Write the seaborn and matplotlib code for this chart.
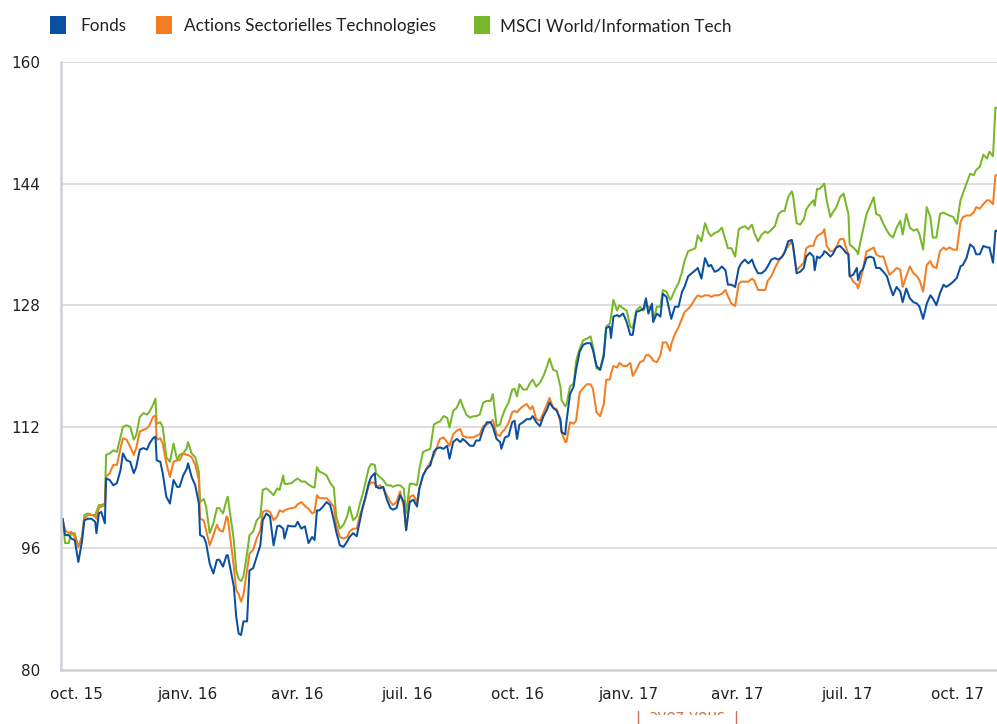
import numpy as np
import pandas as pd
import matplotlib
matplotlib.use("Agg")
import matplotlib.pyplot as plt
import matplotlib.dates as mdates
import matplotlib.transforms as mtransforms
from matplotlib.ticker import FixedLocator, MultipleLocator
from matplotlib.patches import Rectangle
from matplotlib.lines import Line2D
import seaborn as sns

# ---------------- data ----------------
base_date = "2015-10-01"
days = [
    -16, -14, -11, -9, -6, -3, 0, 2, 5, 8,
    11, 12, 14, 16, 19, 20, 23, 26, 29, 32,
    34, 37, 40, 43, 45, 48, 51, 54, 56, 59,
    61, 62, 65, 67, 70, 73, 76, 79, 81, 84,
    87, 88, 91, 94, 97, 98, 101, 103, 106, 109,
    112, 114, 117, 120, 121,
    126, 128, 130, 132, 134, 137, 139, 142, 145, 148,
    150, 153, 156, 159, 162, 164, 167, 168, 171, 174,
    177, 179, 182, 185, 188, 191, 193, 195, 197, 200,
    203, 206, 209, 211, 214, 217, 220, 222, 225, 228,
    231, 233, 235, 238, 240, 243, 244, 247, 250, 253,
    256, 258, 261, 264, 267, 269, 272, 275, 278,
    280, 283, 286, 289, 292, 294, 297, 300, 303, 305,
    308, 311, 314, 316, 319, 322, 325, 327, 330, 333,
    336, 339, 341, 344, 347, 348, 351, 354, 357, 359,
    361, 363, 366, 369, 372, 374, 377, 380, 383, 386,
    388, 391, 394, 397, 398, 401, 402, 405, 408, 410,
    413, 416, 419, 422, 424, 427, 430, 433, 435, 438,
    439, 441, 444, 446, 449, 452, 455, 457, 460,
    463, 466, 468, 470, 473, 474, 477, 480, 482, 485,
    488, 489, 492, 495, 498, 500, 503, 506, 509, 511,
    514, 517, 520, 522, 525, 528, 531, 534, 536, 539,
    542, 545, 547, 550, 553, 556, 558, 561, 564, 567,
    569, 572, 575, 578, 581, 583, 586, 589, 590, 593,
    596, 599, 601, 604, 607, 608, 610,
    612, 615, 616, 618, 621, 623, 626, 629, 632, 634,
    636, 637, 640, 643, 644, 646, 648, 651, 654, 657,
    659, 662, 665, 668, 670, 673, 676, 679, 681, 684,
    687, 690, 693, 695, 698, 701, 704, 706, 709, 712,
    715, 717, 720, 723, 726, 729, 731, 734, 737, 740,
    742, 745, 748, 751, 753, 756, 758, 759,
]

fonds = [
    99.9, 97.75, 97.75, 97.3, 97.1, 94.2, 96.9, 99.7, 99.9, 99.9,
    99.5, 98.0, 100.6, 100.8, 99.3, 105.2, 105.0, 104.3, 104.6, 106.3,
    108.5, 107.6, 107.4, 105.9, 106.7, 109.0, 109.2, 109.0, 109.8, 110.5,
    110.7, 107.6, 107.4, 105.9, 102.8, 101.9, 105.0, 104.1, 104.1, 105.6,
    106.5, 107.2, 105.4, 104.3, 101.9, 97.75, 97.5, 96.7, 94.0, 92.7,
    94.5, 94.5, 93.6, 95.1, 95.1,
    91.0, 87.0, 84.8, 84.6, 86.4, 86.4, 93.1, 93.4, 94.9, 96.4,
    99.7, 100.6, 100.2, 96.4, 98.9, 99.0, 98.6, 97.3, 99.0, 98.9,
    98.9, 99.5, 98.6, 98.9, 96.7, 97.5, 97.1, 101.0, 101.0, 101.5,
    102.1, 101.7, 99.7, 98.2, 96.4, 96.2, 96.9, 97.5, 98.0, 97.6,
    99.9, 101.5, 102.6, 104.6, 105.4, 105.9, 104.1, 103.9, 104.1, 102.4,
    101.3, 101.1, 101.3, 103.0, 102.1, 98.4, 102.1, 102.4, 101.5,
    103.9, 105.6, 106.5, 106.9, 108.7, 109.1, 109.3, 109.1, 109.5, 107.8,
    110.0, 110.4, 110.0, 110.4, 110.0, 109.5, 109.5, 110.2, 110.2, 111.7,
    112.6, 112.6, 112.0, 110.4, 110.0, 109.1, 110.6, 110.8, 112.6, 112.8,
    110.4, 112.3, 112.6, 113.0, 113.0, 113.4, 112.6, 112.1, 113.4, 114.3,
    115.2, 114.5, 114.1, 113.0, 111.3, 111.0, 112.6, 116.3, 117.3, 119.5,
    121.9, 122.8, 123.0, 123.0, 122.1, 120.0, 119.5, 121.3, 125.0, 125.2,
    123.7, 126.5, 126.7, 126.5, 126.9, 125.8, 124.1, 124.1, 127.1,
    127.3, 127.5, 128.9, 126.9, 128.2, 125.8, 126.9, 126.5, 129.5, 129.1,
    126.9, 126.2, 127.8, 127.8, 129.8, 130.4, 131.8, 132.2, 132.6, 132.9,
    131.5, 134.2, 133.1, 133.3, 132.4, 132.6, 133.1, 132.6, 130.7, 130.7,
    130.4, 132.9, 133.5, 134.0, 133.5, 134.0, 133.1, 132.2, 132.2, 132.6,
    133.1, 134.0, 134.2, 134.0, 134.4, 134.9, 136.4, 136.6, 135.9, 132.2,
    132.4, 132.9, 134.4, 134.9, 134.4, 132.6, 134.4,
    134.2, 134.7, 135.1, 134.9, 134.4, 134.7, 135.6, 135.8, 135.3, 134.9,
    134.7, 131.8, 132.0, 132.9, 131.3, 132.4, 132.7, 134.2, 134.4, 134.2,
    132.9, 132.9, 132.4, 131.8, 130.7, 129.3, 130.4, 129.8, 128.4, 130.2,
    128.9, 128.4, 128.2, 127.8, 126.2, 128.2, 129.3, 128.9, 128.0, 129.6,
    130.7, 130.4, 130.7, 131.1, 131.6, 133.1, 133.3, 134.2, 136.0, 135.6,
    134.7, 134.7, 135.8, 135.6, 135.6, 133.6, 137.8, 137.8,
]

actions = [
    99.7, 98.4, 98.0, 98.2, 97.5, 96.2, 97.5, 99.9, 100.4, 100.4,
    100.2, 99.9, 101.3, 101.5, 101.7, 105.4, 105.9, 107.0, 107.0, 109.2,
    110.5, 110.3, 109.4, 108.3, 109.2, 111.4, 111.6, 111.8, 112.2, 113.3,
    113.5, 110.3, 110.5, 109.8, 107.2, 105.4, 107.4, 107.6, 107.6, 108.5,
    108.3, 108.3, 108.0, 107.0, 105.0, 99.9, 99.7, 98.4, 96.4, 97.75,
    99.1, 98.4, 98.2, 100.2, 100.0,
    93.6, 90.5, 90.0, 89.0, 89.9, 93.1, 95.3, 95.8, 97.3, 98.4,
    100.8, 101.0, 100.8, 99.7, 100.2, 101.0, 100.8, 101.0, 101.2, 101.3,
    101.4, 101.8, 102.1, 101.6, 101.2, 100.6, 100.8, 103.0, 102.6, 102.6,
    102.6, 102.1, 101.5, 99.1, 97.5, 97.3, 97.5, 98.2, 98.6, 98.6,
    100.6, 101.3, 102.5, 104.3, 104.7, 104.6, 104.1, 104.3, 103.9, 103.0,
    102.1, 101.7, 102.1, 103.5, 101.5, 98.4, 102.8, 103.0, 102.1,
    103.9, 105.6, 106.5, 107.3, 108.2, 109.1, 110.4, 110.6, 110.0, 109.5,
    111.0, 111.5, 111.7, 110.8, 110.6, 110.6, 110.6, 110.8, 111.0, 112.1,
    112.3, 112.6, 112.9, 111.0, 110.8, 111.2, 111.7, 112.5, 113.9, 114.1,
    113.9, 114.3, 114.7, 115.0, 114.3, 114.7, 113.0, 112.8, 113.9, 115.0,
    115.8, 114.5, 114.3, 112.6, 111.3, 110.0, 110.0, 112.6, 112.4, 112.8,
    116.5, 117.1, 117.6, 117.6, 117.0, 113.9, 113.4, 115.0, 118.2, 118.2,
    119.0, 120.0, 119.8, 120.4, 120.0, 120.0, 120.4, 118.7, 119.5,
    120.5, 120.7, 121.4, 121.5, 121.0, 120.7, 120.5, 121.4, 123.1, 123.1,
    122.0, 122.9, 124.2, 125.1, 126.3, 127.1, 127.5, 128.1, 128.9, 129.3,
    129.1, 129.3, 129.3, 129.1, 129.3, 129.3, 129.5, 130.0, 129.2, 128.2,
    127.9, 130.8, 131.1, 131.1, 131.1, 131.5, 131.2, 130.0, 130.0, 130.0,
    131.2, 131.8, 132.9, 133.8, 134.4, 135.0, 135.8, 136.4, 135.8, 132.6,
    133.1, 133.6, 135.5, 135.8, 135.8, 136.4, 137.1,
    137.3, 137.6, 138.0, 135.8, 135.1, 135.1, 135.6, 136.7, 136.7, 135.6,
    134.7, 132.0, 131.1, 130.7, 130.2, 131.3, 132.7, 135.1, 135.3, 135.6,
    134.7, 134.4, 134.4, 132.9, 132.0, 132.4, 132.9, 132.7, 130.4, 131.8,
    133.1, 132.2, 131.8, 131.3, 129.8, 133.3, 133.8, 133.1, 132.9, 135.1,
    135.6, 135.3, 135.6, 135.3, 135.3, 138.9, 139.6, 139.8, 139.8, 140.2,
    140.9, 140.7, 141.3, 141.8, 141.8, 141.3, 145.1, 145.1,
]

msci = [
    99.9, 96.7, 96.7, 98.0, 98.0, 96.2, 97.5, 100.4, 100.6, 100.4,
    100.4, 100.8, 101.7, 101.7, 101.9, 108.3, 108.5, 108.9, 108.7, 110.7,
    112.0, 112.2, 112.0, 110.3, 110.9, 113.3, 113.8, 113.6, 114.0, 114.9,
    115.7, 112.4, 112.6, 112.0, 108.0, 107.4, 109.8, 107.6, 108.3, 108.5,
    109.2, 110.0, 108.5, 108.0, 106.1, 102.1, 102.5, 101.5, 98.0, 99.3,
    101.3, 101.3, 100.6, 102.4, 102.8,
    97.1, 93.1, 92.0, 91.7, 92.3, 95.3, 97.75, 98.2, 99.7, 100.2,
    103.7, 103.9, 103.5, 103.0, 103.9, 103.7, 105.6, 104.5, 104.5, 104.6,
    105.0, 105.2, 104.8, 104.8, 104.4, 104.1, 104.0, 106.7, 106.1, 105.9,
    105.6, 104.6, 104.0, 100.2, 98.6, 99.1, 100.2, 101.5, 99.7, 100.2,
    102.1, 103.2, 104.5, 106.6, 107.1, 107.0, 105.9, 105.4, 105.0, 104.3,
    104.3, 104.1, 104.3, 104.3, 103.9, 100.6, 104.5, 104.5, 104.3,
    106.5, 108.7, 108.9, 109.1, 112.3, 112.5, 112.7, 113.4, 113.2, 111.9,
    114.1, 114.5, 115.6, 114.7, 113.6, 113.2, 113.4, 113.4, 113.6, 115.2,
    115.4, 115.4, 116.3, 112.1, 112.3, 113.0, 114.3, 115.2, 116.9, 117.0,
    116.0, 117.6, 116.9, 116.9, 117.8, 118.2, 117.3, 117.8, 118.7, 120.0,
    121.0, 119.5, 119.3, 117.3, 115.5, 114.7, 114.9, 117.3, 117.7, 120.6,
    122.3, 123.4, 123.6, 123.9, 122.6, 119.7, 119.5, 121.7, 125.2, 125.6,
    126.5, 128.7, 127.3, 128.0, 127.6, 127.3, 125.2, 125.0, 127.3,
    127.8, 127.3, 128.0, 127.8, 127.6, 125.8, 127.8, 127.8, 130.0, 129.8,
    128.7, 128.9, 130.0, 130.9, 132.4, 133.8, 135.1, 135.3, 135.5, 137.2,
    136.4, 138.8, 137.5, 137.1, 137.5, 137.7, 138.2, 136.6, 135.5, 135.5,
    134.4, 138.0, 138.2, 138.4, 138.0, 138.6, 137.5, 136.4, 137.3, 137.7,
    137.5, 137.9, 138.4, 140.0, 140.4, 140.4, 142.2, 143.0, 142.5, 138.8,
    138.6, 139.3, 140.6, 141.3, 141.8, 141.1, 143.3,
    143.3, 143.8, 144.0, 141.8, 139.6, 140.2, 140.9, 142.2, 142.7, 141.3,
    140.0, 136.0, 135.6, 135.1, 134.7, 136.4, 137.8, 140.0, 141.1, 142.2,
    140.0, 139.8, 138.7, 137.8, 137.3, 136.9, 138.2, 139.1, 137.3, 140.0,
    138.2, 137.8, 138.0, 137.3, 135.3, 140.9, 139.6, 136.9, 136.9, 140.0,
    140.2, 140.0, 139.8, 139.6, 138.7, 141.8, 142.7, 144.0, 145.3, 145.1,
    145.8, 146.2, 147.8, 147.3, 148.2, 147.6, 154.0, 154.0,
]

series_names = ["Fonds", "Actions Sectorielles Technologies", "MSCI World/Information Tech"]
series_colors = ["#0b4fa0", "#f47d21", "#77b82a"]

y_ticks = [80, 96, 112, 128, 144, 160]
x_tick_dates = ["2015-10-01", "2016-01-01", "2016-04-01", "2016-07-01", "2016-10-01",
                "2017-01-01", "2017-04-01", "2017-07-01", "2017-10-01"]
x_tick_labels = ["oct. 15", "janv. 16", "avr. 16", "juil. 16", "oct. 16",
                 "janv. 17", "avr. 17", "juil. 17", "oct. 17"]

# ---------------- build table ----------------
n = min(len(days), len(fonds), len(actions), len(msci))
base = pd.Timestamp(base_date)
dates = base + pd.to_timedelta(np.array(days[:n]), unit="D")
frames = []
for name, vals in zip(series_names, [fonds, actions, msci]):
    frames.append(pd.DataFrame({"date": dates, "value": vals[:n], "series": name}))
df = pd.concat(frames, ignore_index=True)

# ---------------- figure ----------------
sns.set_style("white")
plt.rcParams["font.family"] = "DejaVu Sans"
plt.rcParams["font.sans-serif"] = ["DejaVu Sans"]

W, H = 997, 724
fig = plt.figure(figsize=(W / 100, H / 100), dpi=100)
ax = fig.add_axes([61 / W, 1 - 670 / H, (997 - 61) / W, (670 - 62) / H])

palette = dict(zip(series_names, series_colors))
sns.lineplot(data=df, x="date", y="value", hue="series",
             hue_order=[series_names[2], series_names[1], series_names[0]],
             palette=palette, linewidth=1.45, legend=False, estimator=None,
             ax=ax)

ax.set_xlim(base + pd.Timedelta(days=-17.4), base + pd.Timedelta(days=759.3))
ax.set_ylim(80, 160)
ax.set_xlabel("")
ax.set_ylabel("")

spine_col = "#cdd1d6"
for s in ["top", "right"]:
    ax.spines[s].set_visible(False)
for s in ["left", "bottom"]:
    ax.spines[s].set_color(spine_col)
    ax.spines[s].set_linewidth(1.8)

ax.set_yticks(y_ticks)
ax.yaxis.set_minor_locator(MultipleLocator(3.2))
ax.set_yticklabels([str(v) for v in y_ticks])

ax.xaxis.set_major_locator(FixedLocator(mdates.date2num(pd.to_datetime(x_tick_dates))))
ax.xaxis.set_minor_locator(mdates.MonthLocator())
ax.set_xticklabels(x_tick_labels)

ax.tick_params(axis="y", which="major", length=8, width=1.4, color="#111111",
               labelsize=11, labelcolor="#222222", pad=7)
ax.tick_params(axis="y", which="minor", length=7.5, width=1.1, color=spine_col)
ax.tick_params(axis="x", which="major", length=7, width=1.4, color="#111111",
               labelsize=11, labelcolor="#222222", pad=5)
ax.tick_params(axis="x", which="minor", length=5, width=1.1, color=spine_col)

shift = mtransforms.ScaledTranslation(-5.5 / 100, 0, fig.dpi_scale_trans)
for lbl in ax.get_xticklabels():
    lbl.set_fontfamily("DejaVu Sans")
    lbl.set_transform(lbl.get_transform() + shift)
for lbl in ax.get_yticklabels():
    lbl.set_fontfamily("DejaVu Sans")

ax.set_axisbelow(True)
ax.grid(axis="y", which="major", color="#d4d4d4", linewidth=1.1)
ax.grid(axis="x", visible=False)
ax.grid(axis="y", which="minor", visible=False)

# ---------------- legend (manual) ----------------
leg_sq_x = [50, 156, 474]
leg_tx_x = [80, 184, 500]
for name, col, sx, tx in zip(series_names, series_colors, leg_sq_x, leg_tx_x):
    fig.patches.append(Rectangle((sx / W, 1 - 34 / H), 16 / W, 18 / H,
                                 transform=fig.transFigure, facecolor=col,
                                 edgecolor="none"))
    fig.text(tx / W, 1 - 26 / H, name, ha="left", va="center",
             fontsize=12.3, color="#222222", family=["Lato", "DejaVu Sans"])

# ---------------- clipped button at bottom ----------------
btn_col = "#c8734f"
fig.text(687 / W, 1 - 721 / H, "avez-vous", ha="center", va="baseline",
         fontsize=11, color=btn_col, family="DejaVu Sans", zorder=3)
fig.add_artist(Rectangle((628 / W, 0), 120 / W, (724 - 715) / H,
                         transform=fig.transFigure, facecolor="white",
                         edgecolor="none", zorder=5))
fig.add_artist(Rectangle((628 / W, 1 - 711 / H), 120 / W, 8 / H,
                         transform=fig.transFigure, facecolor="white",
                         edgecolor="none", zorder=5))
for bx in [638, 736]:
    fig.add_artist(Line2D([bx / W, bx / W], [0, 1 - 711 / H],
                          transform=fig.transFigure, color=btn_col,
                          linewidth=1.0, zorder=6))

fig.savefig("out.png", dpi=100)
